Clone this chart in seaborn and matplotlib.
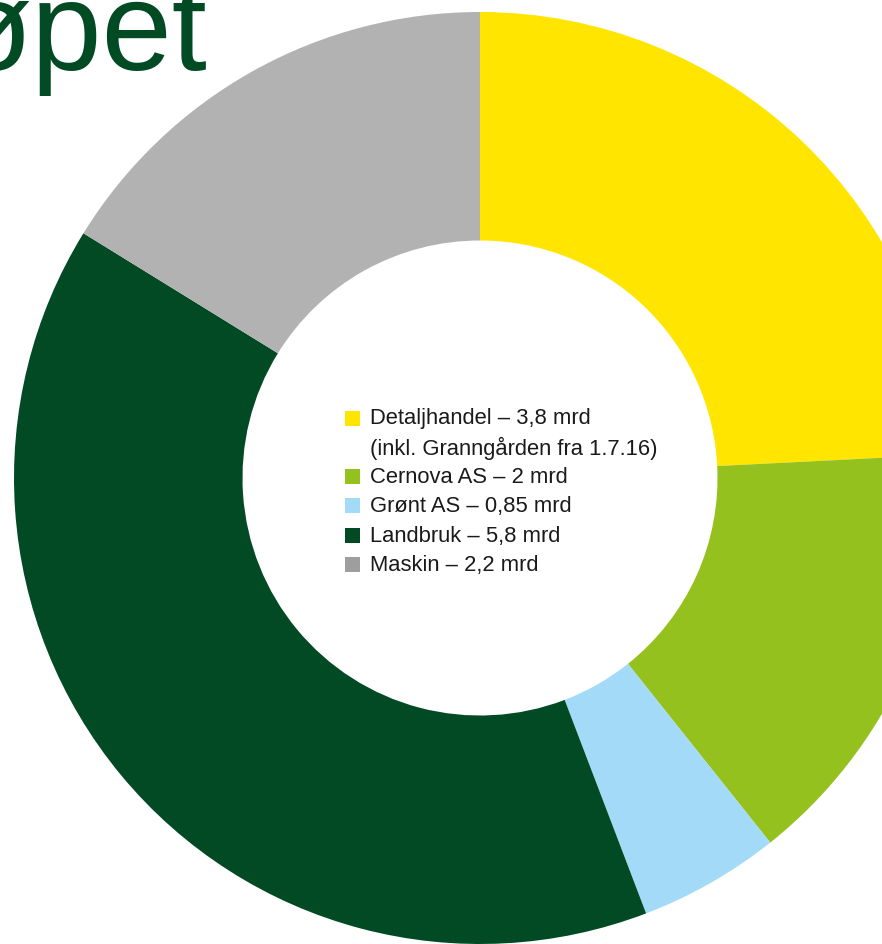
import matplotlib
matplotlib.use("Agg")
import matplotlib.pyplot as plt
import matplotlib.patches as mpatches
import seaborn as sns

# ==========================================
# Data
# ==========================================

segments = ["Detaljhandel", "Cernova AS", "Grønt AS", "Landbruk", "Maskin"]
# share of the ring (percent)
shares = [24.2, 15.1, 4.9, 39.6, 16.2]
legend_labels = [
    "Detaljhandel – 3,8 mrd\n(inkl. Granngården fra 1.7.16)",
    "Cernova AS – 2 mrd",
    "Grønt AS – 0,85 mrd",
    "Landbruk – 5,8 mrd",
    "Maskin – 2,2 mrd",
]
colors = ["#FFE500", "#95C11F", "#A2DAF7", "#014A23", "#B2B2B2"]
legend_colors = ["#FFE500", "#95C11F", "#A2DAF7", "#014A23", "#9E9E9E"]
title = "øpet"

# ==========================================
# Figure
# ==========================================

sns.set_theme(style="white")
plt.rcParams["font.family"] = ["Liberation Sans", "DejaVu Sans"]

W, H = 882, 945
fig = plt.figure(figsize=(W / 100, H / 100), dpi=100)
ax = fig.add_axes([0, 0, 1, 1])

cx, cy = 480, H - 479
r_out, r_in = 466, 237.5

ax.pie(
    shares,
    colors=colors,
    startangle=90,
    counterclock=False,
    radius=r_out,
    center=(cx, cy),
    wedgeprops=dict(width=r_out - r_in, linewidth=0),
    frame=True,
)
ax.set_xlim(0, W)
ax.set_ylim(0, H)
ax.set_aspect("equal")
ax.axis("off")

# ==========================================
# Legend in the hole
# ==========================================

row = 29.3
y = H - 419
for lab, col in zip(legend_labels, legend_colors):
    ax.add_patch(mpatches.Rectangle((345, y - 7.5), 15, 15, color=col, lw=0))
    lines = lab.split("\n")
    for ln in lines:
        ax.text(370, y, ln, fontsize=15.8, color="#1a1a1a", va="center", ha="left")
        y -= row

# ==========================================
# Title (cut at left edge)
# ==========================================

ax.text(207, H - 70, title, fontsize=91, color="#004B23",
        ha="right", va="baseline")

fig.savefig("out.png", dpi=100)
